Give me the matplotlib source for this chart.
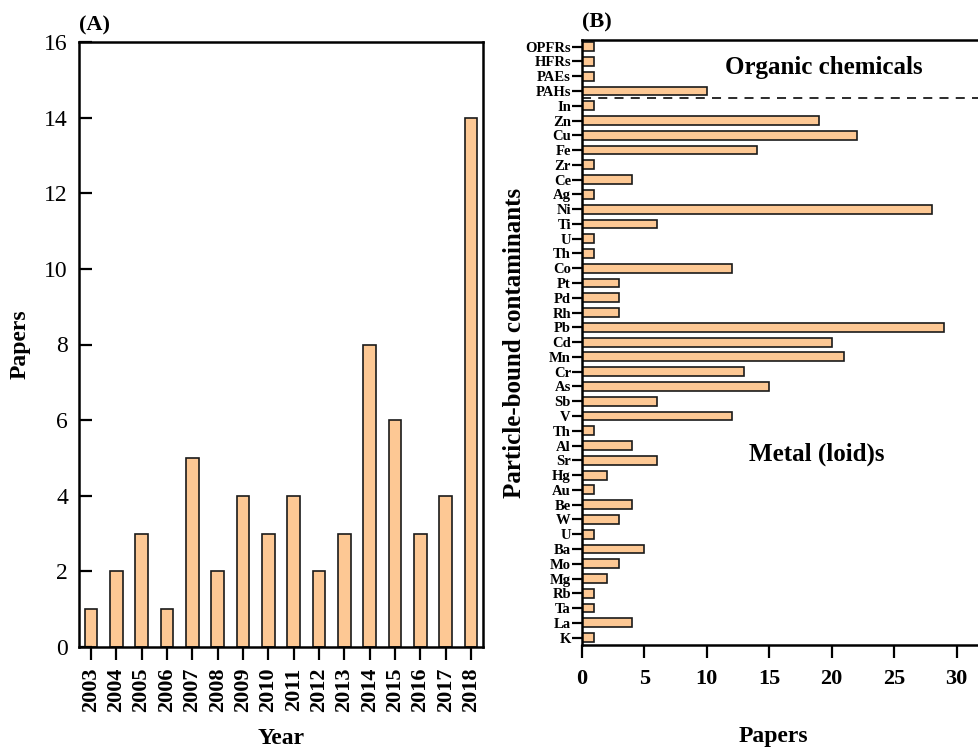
import matplotlib
matplotlib.use("Agg")
import matplotlib.pyplot as plt
import numpy as np

plt.rcParams['font.family'] = ['Liberation Serif', 'DejaVu Serif']

years = ['2003', '2004', '2005', '2006', '2007', '2008', '2009', '2010',
         '2011', '2012', '2013', '2014', '2015', '2016', '2017', '2018']
year_papers = [1, 2, 3, 1, 5, 2, 4, 3, 4, 2, 3, 8, 6, 3, 4, 14]

contaminants = ['OPFRs', 'HFRs', 'PAEs', 'PAHs', 'In', 'Zn', 'Cu', 'Fe', 'Zr', 'Ce',
                'Ag', 'Ni', 'Ti', 'U', 'Th', 'Co', 'Pt', 'Pd', 'Rh', 'Pb',
                'Cd', 'Mn', 'Cr', 'As', 'Sb', 'V', 'Th', 'Al', 'Sr', 'Hg',
                'Au', 'Be', 'W', 'U', 'Ba', 'Mo', 'Mg', 'Rb', 'Ta', 'La', 'K']
contaminant_papers = [1, 1, 1, 10, 1, 19, 22, 14, 1, 4,
                      1, 28, 6, 1, 1, 12, 3, 3, 3, 29,
                      20, 21, 13, 15, 6, 12, 1, 4, 6, 2,
                      1, 4, 3, 1, 5, 3, 2, 1, 1, 4, 1]
n_organic = 4

bar_color = '#FDC894'
W, H = 979, 748
fig = plt.figure(figsize=(W / 100, H / 100), dpi=100)

# ---------- Panel A ----------
ax1 = fig.add_axes([79 / W, 1 - 647 / H, (483 - 79) / W, (647 - 42) / H])
x = np.arange(len(years))
ax1.bar(x, year_papers, width=0.5, color=bar_color, edgecolor='#1a1a1a', linewidth=1.2)
ax1.set_xlim(-0.47, len(years) - 0.53)
ax1.set_ylim(0, 16)
ax1.set_yticks(np.arange(0, 17, 2))
ax1.set_xticks(x)
ax1.set_xticklabels(years, rotation=90, fontsize=16, fontweight='bold')
ax1.tick_params(axis='y', direction='in', length=9, width=1.6, labelsize=17, pad=8)
ax1.tick_params(axis='x', direction='out', length=9, width=1.6, pad=6)
for s in ax1.spines.values():
    s.set_linewidth(1.8)
ax1.set_ylabel('Papers', fontsize=17, fontweight='bold', labelpad=10)
ax1.set_xlabel('Year', fontsize=17, fontweight='bold', labelpad=11)
ax1.text(0.0, 1.01, '(A)', transform=ax1.transAxes, fontsize=16, fontweight='bold',
         ha='left', va='bottom')

# ---------- Panel B ----------
ax2 = fig.add_axes([582 / W, 1 - 645 / H, (W - 582) / W, (645 - 40) / H])
y = np.arange(len(contaminants))
ax2.barh(y, contaminant_papers, height=0.6, color=bar_color, edgecolor='#1a1a1a', linewidth=1.2)
ax2.set_ylim(len(contaminants) - 0.5, -0.45)
ax2.set_xlim(0, 31.8)
ax2.set_yticks(y)
ax2.set_yticklabels(contaminants, fontsize=10.5, fontweight='bold')
ax2.set_xticks(np.arange(0, 31, 5))
ax2.tick_params(axis='y', direction='out', length=7, width=1.6, pad=1)
ax2.tick_params(axis='x', direction='out', length=9, width=1.6, labelsize=16, pad=8)
for lbl in ax2.get_xticklabels():
    lbl.set_fontweight('bold')
for s in ax2.spines.values():
    s.set_linewidth(1.8)
ax2.spines['right'].set_visible(False)
ax2.axhline(n_organic - 0.5, color='#1a1a1a', linestyle=(0, (5, 4)), linewidth=1.3)
ax2.text(0.61, 0.955, 'Organic chemicals', transform=ax2.transAxes, fontsize=18,
         fontweight='bold', ha='center', va='center')
ax2.text(0.592, 0.315, 'Metal (loid)s', transform=ax2.transAxes, fontsize=18,
         fontweight='bold', ha='center', va='center')
ax2.set_ylabel('Particle-bound contaminants', fontsize=18, fontweight='bold')
ax2.yaxis.set_label_coords(-0.14, 0.5)
ax2.set_xlabel('Papers', fontsize=17, fontweight='bold')
ax2.xaxis.set_label_coords(0.481, -0.134)
ax2.text(0.0, 1.012, '(B)', transform=ax2.transAxes, fontsize=16, fontweight='bold',
         ha='left', va='bottom')

fig.savefig('out.png', dpi=100)
